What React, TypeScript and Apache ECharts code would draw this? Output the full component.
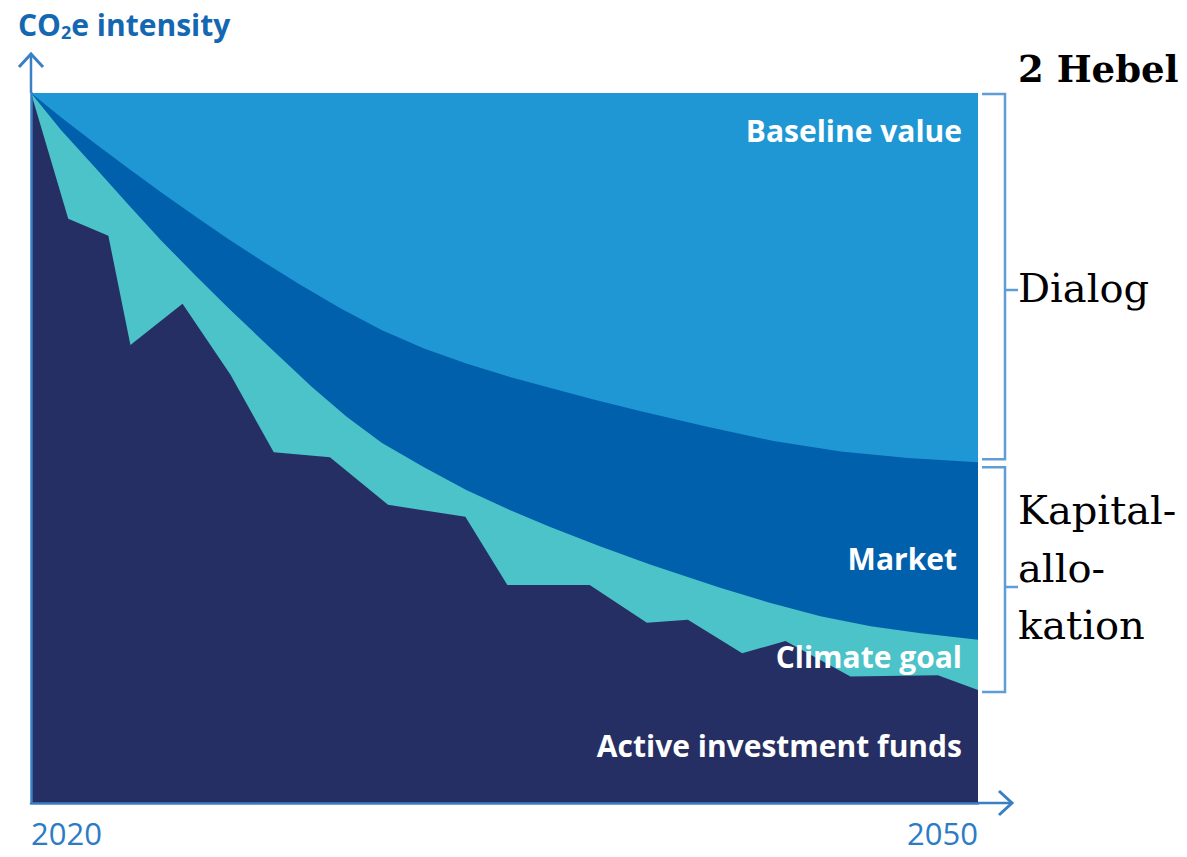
import React, { useEffect, useRef } from "react";
import * as echarts from "echarts";

// ---- data (years on x, CO2e intensity index on y, 100 = start) ----
const xMin = 2020;
const xMax = 2050;
const xTickLabels = [2020, 2050];

const baselineYears = [2020, 2050];
const baselineValues = [100, 100];

const marketYears = [2020, 2020.95, 2022.03, 2023.08, 2024.13, 2025.21, 2026.26, 2027.37, 2028.49, 2029.8, 2031.12, 2032.45, 2033.79, 2035.1, 2036.43, 2037.85, 2039.29, 2041.42, 2043.52, 2045.65, 2047.78, 2050];
const marketValues = [100, 96.6, 92.9, 89.4, 86.0, 82.6, 79.4, 76.2, 73.1, 69.7, 66.6, 64.0, 61.9, 60.1, 58.5, 56.8, 55.2, 53.0, 51.0, 49.5, 48.6, 48.0];

const climateYears = [2020, 2020.95, 2022.03, 2023.08, 2024.13, 2025.21, 2026.26, 2027.6, 2028.9, 2030.0, 2031.12, 2032.45, 2033.79, 2035.1, 2036.43, 2038.0, 2039.61, 2041.83, 2043.4, 2045.01, 2046.6, 2048.19, 2050];
const climateValues = [100, 94.8, 89.5, 84.3, 79.2, 74.3, 69.7, 64.0, 58.6, 54.4, 50.7, 47.3, 44.1, 41.4, 38.9, 36.2, 33.6, 30.3, 28.2, 26.3, 24.9, 23.9, 23.0];

const fundsYears = [2020, 2021.18, 2022.45, 2023.15, 2024.8, 2026.32, 2027.69, 2029.47, 2031.31, 2033.76, 2035.09, 2037.7, 2039.51, 2040.81, 2042.53, 2043.9, 2045.96, 2048.73, 2050];
const fundsValues = [100, 82.3, 79.9, 64.5, 70.3, 60.3, 49.4, 48.7, 42.0, 40.3, 30.7, 30.7, 25.4, 25.8, 21.1, 22.8, 17.8, 18.0, 15.9];

const seriesNames = ["Baseline value", "Market", "Climate goal", "Active investment funds"];
const leverTitle = "2 Hebel";
const leverDialog = "Dialog";
const leverCapital = ["Kapital-", "allo-", "kation"];

const zip = (xs: number[], ys: number[]) => xs.map((x, i) => [x, ys[i]]);

const C_BASE = "#1E97D4";
const C_MARKET = "#0060AC";
const C_CLIMATE = "#4BC3C9";
const C_FUNDS = "#262F64";
const C_AXIS = "#3A7FC3";
const C_BRACKET = "#5E9DD5";
const SANS = "'Open Sans', 'Noto Sans', sans-serif";
const SERIF = "'DejaVu Serif', serif";

export default function App() {
  const ref = useRef<HTMLDivElement>(null);

  useEffect(() => {
    if (!ref.current) return;
    const chart = echarts.init(ref.current, null, { renderer: "svg" });

    const area = (name: string, data: number[][], color: string) => ({
      name,
      type: "line",
      data,
      symbol: "none",
      silent: true,
      smooth: false,
      lineStyle: { width: 0, color },
      itemStyle: { color },
      areaStyle: { color, opacity: 1 },
    });

    chart.setOption({
      animation: false,
      grid: { left: 31, top: 93, width: 947, height: 710 },
      xAxis: {
        type: "value",
        min: xMin,
        max: xMax,
        z: 10,
        splitLine: { show: false },
        axisTick: { show: false },
        axisLine: { show: true, lineStyle: { color: C_AXIS, width: 2.5 } },
        axisLabel: {
          customValues: xTickLabels,
          formatter: (v: number) => String(v),
          color: "#2C7CC5",
          fontSize: 31,
          fontFamily: SANS,
          margin: 14,
          alignMinLabel: "left",
          alignMaxLabel: "right",
          showMinLabel: true,
          showMaxLabel: true,
        },
      },
      yAxis: {
        type: "value",
        min: 0,
        max: 100,
        z: 10,
        splitLine: { show: false },
        axisTick: { show: false },
        axisLabel: { show: false },
        axisLine: { show: true, lineStyle: { color: C_AXIS, width: 2.5 } },
      },
      series: [
        area(seriesNames[0], zip(baselineYears, baselineValues), C_BASE),
        area(seriesNames[1], zip(marketYears, marketValues), C_MARKET),
        area(seriesNames[2], zip(climateYears, climateValues), C_CLIMATE),
        area(seriesNames[3], zip(fundsYears, fundsValues), C_FUNDS),
      ],
    });

    const px = (x: number, y: number) => chart.convertToPixel({ gridIndex: 0 }, [x, y]) as number[];
    const [xL, yTop] = px(xMin, 100);
    const [xR, yBot] = px(xMax, 0);
    const yMarketEnd = px(xMax, marketValues[marketValues.length - 1])[1];
    const yFundsEnd = px(xMax, fundsValues[fundsValues.length - 1])[1];

    const stroke = { stroke: C_AXIS, lineWidth: 2.5, fill: null };
    const bstroke = { stroke: C_BRACKET, lineWidth: 2.5, fill: null };
    const bx0 = xR + 4;
    const bx1 = xR + 27;
    const labelStyle = (text: string, y: number, inset: number) => ({
      type: "text",
      x: xR - inset,
      y,
      z: 20,
      style: {
        text,
        fill: "#ffffff",
        font: `bold 30px ${SANS}`,
        textAlign: "right",
        textVerticalAlign: "middle",
      },
    });

    chart.setOption({
      graphic: [
        // axis arrow extensions
        { type: "line", z: 20, shape: { x1: xL, y1: yTop, x2: xL, y2: yTop - 39 }, style: stroke },
        { type: "polyline", z: 20, shape: { points: [[xL - 12, yTop - 26], [xL, yTop - 39], [xL + 12, yTop - 26]] }, style: { ...stroke, lineWidth: 3 } },
        { type: "line", z: 20, shape: { x1: xR, y1: yBot, x2: xR + 34, y2: yBot }, style: stroke },
        { type: "polyline", z: 20, shape: { points: [[xR + 21, yBot - 12], [xR + 34, yBot], [xR + 21, yBot + 12]] }, style: { ...stroke, lineWidth: 3 } },
        // axis title
        {
          type: "text",
          x: 18,
          y: 24,
          z: 20,
          style: {
            text: "{m|CO}{s|2}{m|e intensity}",
            textVerticalAlign: "middle",
            rich: {
              m: { fontSize: 30, fontWeight: "bold", fontFamily: SANS, fill: "#1467B1", lineHeight: 36 },
              s: { fontSize: 18, fontWeight: "bold", fontFamily: SANS, fill: "#1467B1", lineHeight: 36, padding: [16, 0, 0, 0] },
            },
          },
        },
        // series labels
        labelStyle(seriesNames[0], 130, 16),
        labelStyle(seriesNames[1], 558, 21),
        labelStyle(seriesNames[2], 656, 16),
        labelStyle(seriesNames[3], 745, 16),
        // levers
        {
          type: "text",
          x: 1018,
          y: 69,
          style: { text: leverTitle, font: `bold 37px ${SERIF}`, fill: "#000", textVerticalAlign: "middle" },
        },
        { type: "polyline", shape: { points: [[bx0, yTop + 1], [bx1, yTop + 1], [bx1, yMarketEnd - 3], [bx0, yMarketEnd - 3]] }, style: bstroke },
        { type: "line", shape: { x1: bx1, y1: 290, x2: bx1 + 13, y2: 290 }, style: bstroke },
        { type: "text", x: 1018, y: 288, style: { text: leverDialog, font: `40px ${SERIF}`, fill: "#000", textVerticalAlign: "middle" } },
        { type: "polyline", shape: { points: [[bx0, yMarketEnd + 5], [bx1, yMarketEnd + 5], [bx1, yFundsEnd + 2], [bx0, yFundsEnd + 2]] }, style: bstroke },
        { type: "line", shape: { x1: bx1, y1: 587, x2: bx1 + 13, y2: 587 }, style: bstroke },
        ...leverCapital.map((t, i) => ({
          type: "text",
          x: 1018,
          y: 510 + i * 57.5,
          style: { text: t, font: `40px ${SERIF}`, fill: "#000", textVerticalAlign: "middle" },
        })),
      ],
    });

    return () => chart.dispose();
  }, []);

  return (
    <div
      ref={ref}
      style={{ position: "absolute", left: 0, top: 0, width: 1187, height: 857, background: "#fff" }}
    />
  );
}
